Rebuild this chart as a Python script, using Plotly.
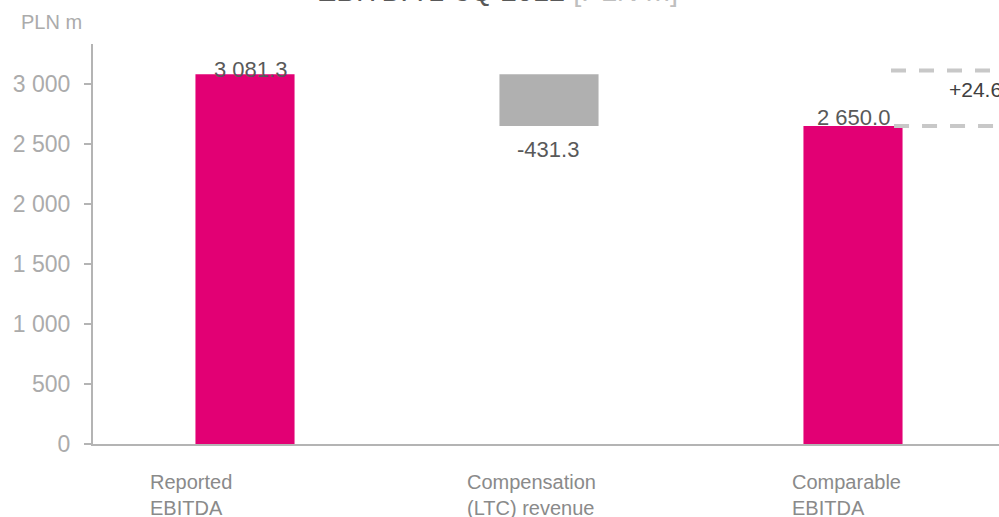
import plotly.graph_objects as go

# ---- data ----
categories = ["Reported EBITDA", "Compensation (LTC) revenue", "Comparable EBITDA"]
cat_lines = [["Reported", "EBITDA"], ["Compensation", "(LTC) revenue"], ["Comparable", "EBITDA"]]
values = [3081.3, -431.3, 2650.0]
kinds = ["total", "delta", "total"]
bar_colors = ["#E20074", "#B0B0B0", "#E20074"]
y_ticks = [0, 500, 1000, 1500, 2000, 2500, 3000]
bridge_levels = [2650.0, 3112.0]   # dashed guide lines at the right
bridge_label = "+24.6"
bridge_label_value = 2955.0

def fmt(v):
    s = f"{abs(v):,.1f}".replace(",", " ")
    return ("-" if v < 0 else "") + s

# waterfall bases
bases, heights = [], []
running = 0.0
for v, k in zip(values, kinds):
    if k == "total":
        bases.append(0.0)
        heights.append(v)
        running = v
    else:
        new = running + v
        bases.append(min(running, new))
        heights.append(abs(v))
        running = new

xs = list(range(len(categories)))

fig = go.Figure()
fig.add_trace(go.Bar(
    x=xs, y=heights, base=bases,
    marker=dict(color=bar_colors, line=dict(width=0)),
    width=0.326, hoverinfo="skip", showlegend=False,
))

annotations = []
# value labels
label_shift = [(5, 5), (-1, -24), (0, 8)]
for i, (v, k) in enumerate(zip(values, kinds)):
    yv = v if k == "total" else bases[i]
    dx, dy = label_shift[i]
    annotations.append(dict(
        x=xs[i], y=yv, xref="x", yref="y", text=fmt(v), showarrow=False,
        xanchor="center", yanchor="middle", xshift=dx, yshift=dy,
        font=dict(family="Liberation Sans, Arial", size=22, color="#595959"),
    ))

# category labels (left aligned, two lines)
cat_shift = [-97, -84, -63]
for i, lines in enumerate(cat_lines):
    annotations.append(dict(
        x=xs[i], y=0, xref="x", yref="y", text="<br>".join(lines), showarrow=False,
        xanchor="left", yanchor="top", align="left", xshift=cat_shift[i], yshift=-25,
        font=dict(family="Liberation Sans, Arial", size=20, color="#8a8a8a"),
    ))

# bridge label
annotations.append(dict(
    x=2.32, y=bridge_label_value, xref="x", yref="y", text=bridge_label, showarrow=False,
    xanchor="left", yanchor="middle", xshift=-3,
    font=dict(family="Liberation Sans, Arial", size=21, color="#404040"),
))

# unit label
annotations.append(dict(
    x=-(93 - 19) / 906, y=(444.3 - 22) / 400, xref="paper", yref="paper",
    text="PLN m", showarrow=False, xanchor="left", yanchor="middle",
    font=dict(family="Liberation Sans, Arial", size=20, color="#ababab"),
))

# title (partly cut off at top)
annotations.append(dict(
    x=(497.5 - 93) / 906, y=(444.3 + 9) / 400, xref="paper", yref="paper",
    text="<span style='color:#595959'>EBITDA 1-3Q 2012</span> <span style='color:#bfbfbf'>[PLN m]</span>",
    showarrow=False, xanchor="center", yanchor="middle",
    font=dict(family="Liberation Sans, Arial", size=29, color="#595959"),
))

shapes = []
for lvl, x0 in zip(bridge_levels, [2.135, 2.125]):
    shapes.append(dict(
        type="line", xref="x", yref="y", x0=x0, x1=2.6, y0=lvl, y1=lvl,
        line=dict(color="#c8c8c8", width=4, dash="15px,13px"),
    ))

fig.update_layout(
    width=999, height=517,
    margin=dict(l=93, r=0, t=44, b=73, pad=0),
    paper_bgcolor="white", plot_bgcolor="white",
    separators=". ",
    bargap=0.674,
    annotations=annotations, shapes=shapes,
    xaxis=dict(range=[-0.5, -0.5 + 906 / 304], showgrid=False, zeroline=False,
               showline=True, linecolor="#b4b4b4", linewidth=2,
               showticklabels=False, ticks=""),
    yaxis=dict(range=[0, 3333], tickvals=y_ticks, tickformat=",d", showgrid=False,
               zeroline=False, showline=True, linecolor="#b4b4b4", linewidth=2,
               ticks="outside", ticklen=7, tickcolor="#b4b4b4", tickwidth=2,
               tickfont=dict(family="Liberation Sans, Arial", size=23, color="#ababab"),
               ticklabelstandoff=9),
)

fig.write_html("out.html")
